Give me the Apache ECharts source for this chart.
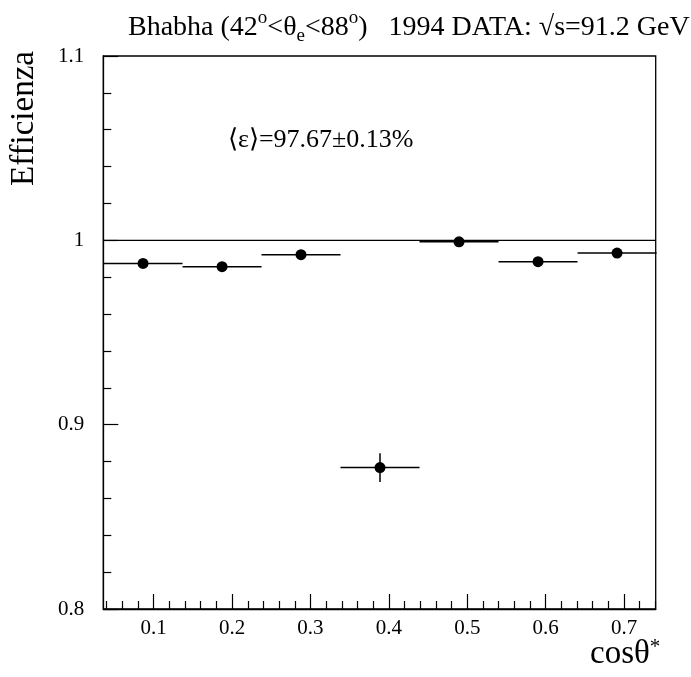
<!DOCTYPE html>
<html>
<head>
<meta charset="utf-8">
<script src="https://cdn.jsdelivr.net/npm/echarts@6/dist/echarts.min.js"></script>
<style>
  html, body { margin: 0; padding: 0; background: #fff; }
  #chart { width: 691px; height: 677px; }
</style>
</head>
<body>
<div id="chart"></div>
<script>
// Bin centres in cos(theta*) and their half widths
const binCenters = [0.0864, 0.1872, 0.2879, 0.3887, 0.4895, 0.5903, 0.6911];
const binHalfWidth = [0.0504, 0.0504, 0.0504, 0.0504, 0.0504, 0.0504, 0.0504];
// Measured efficiency per bin and its statistical error
const efficiency = [0.9875, 0.9857, 0.9922, 0.8767, 0.9992, 0.9884, 0.9931];
const effError = [0.0012, 0.0012, 0.0008, 0.0078, 0.0008, 0.0008, 0.0008];
// Axis tick values
const xMajorTicks = [0.1, 0.2, 0.3, 0.4, 0.5, 0.6, 0.7];
const xMinorTicks = [0.04, 0.06, 0.08, 0.12, 0.14, 0.16, 0.18, 0.22, 0.24, 0.26, 0.28,
  0.32, 0.34, 0.36, 0.38, 0.42, 0.44, 0.46, 0.48, 0.52, 0.54, 0.56, 0.58,
  0.62, 0.64, 0.66, 0.68, 0.72, 0.74];
const xRange = [0.0357, 0.7404];
const yRange = [0.8, 1.1];
const referenceLevel = 1.0;

const FONT = '"Liberation Serif", "Times New Roman", serif';

const points = binCenters.map((x, i) => [x, efficiency[i], binHalfWidth[i], effError[i]]);

const chart = echarts.init(document.getElementById('chart'), null, { renderer: 'canvas' });

chart.setOption({
  animation: false,
  backgroundColor: '#fff',
  grid: { left: 103.3, right: 35.3, top: 56, bottom: 68, show: true, borderColor: '#000', borderWidth: 1.3, backgroundColor: 'transparent' },
  xAxis: [{
    type: 'value', min: xRange[0], max: xRange[1],
    axisLine: { show: true, onZero: false, lineStyle: { color: '#000', width: 1.3 } },
    axisTick: { show: true, inside: true, length: 15, customValues: xMajorTicks, lineStyle: { color: '#000', width: 1.2 } },
    axisLabel: { show: true, customValues: xMajorTicks, color: '#000', fontFamily: FONT, fontSize: 21, margin: 9,
      formatter: v => v.toFixed(1) },
    splitLine: { show: false }
  }, {
    type: 'value', min: xRange[0], max: xRange[1], position: 'bottom',
    axisLine: { show: false, onZero: false },
    axisTick: { show: true, inside: true, length: 8, customValues: xMinorTicks, lineStyle: { color: '#000', width: 1.2 } },
    axisLabel: { show: false },
    splitLine: { show: false }
  }],
  yAxis: {
    type: 'value', min: yRange[0], max: yRange[1], interval: 0.1,
    axisLine: { show: true, onZero: false, lineStyle: { color: '#000', width: 1.3 } },
    axisTick: { show: true, inside: true, length: 15, lineStyle: { color: '#000', width: 1.2 } },
    minorTick: { show: true, splitNumber: 5, length: 8, lineStyle: { color: '#000', width: 1.2 } },
    axisLabel: { color: '#000', fontFamily: FONT, fontSize: 21, margin: 19,
      formatter: v => (Math.abs(v - 1) < 1e-9 ? '1' : (Math.round(v * 10) / 10).toString()) },
    splitLine: { show: false }
  },
  series: [{
    type: 'line',
    data: [[xRange[0], referenceLevel], [xRange[1], referenceLevel]],
    symbol: 'none',
    lineStyle: { color: '#000', width: 1.3 },
    silent: true,
    z: 1
  }, {
    type: 'custom',
    data: points,
    renderItem: (params, api) => {
      const x = api.value(0), y = api.value(1), hw = api.value(2), e = api.value(3);
      const l = api.coord([x - hw, y]);
      const r = api.coord([x + hw, y]);
      const t = api.coord([x, y + e]);
      const b = api.coord([x, y - e]);
      const style = { stroke: '#000', lineWidth: 1.5 };
      return {
        type: 'group',
        children: [
          { type: 'line', shape: { x1: l[0], y1: l[1], x2: r[0], y2: r[1] }, style },
          { type: 'line', shape: { x1: t[0], y1: t[1], x2: b[0], y2: b[1] }, style }
        ]
      };
    },
    z: 2
  }, {
    type: 'scatter',
    data: points.map(p => [p[0], p[1]]),
    symbol: 'circle',
    symbolSize: 11,
    itemStyle: { color: '#000', opacity: 1 },
    z: 3
  }],
  graphic: [{
    type: 'text', left: 128, top: 9,
    style: {
      text: 'Bhabha (42{sup|o}<θ{sub|e}<88{sup|o})   1994 DATA: √s=91.2 GeV',
      fontFamily: FONT, fontSize: 28, fill: '#000',
      rich: {
        sup: { fontFamily: FONT, fontSize: 19, verticalAlign: 'top', padding: [0, 0, 18, 0] },
        sub: { fontFamily: FONT, fontSize: 19, verticalAlign: 'bottom', padding: [16, 0, 0, 0] }
      }
    }
  }, {
    type: 'text', left: 228, top: 127,
    style: { text: '⟨ε⟩=97.67±0.13%', fontFamily: FONT, fontSize: 26, fill: '#000' }
  }, {
    type: 'text', x: 8, y: 186, rotation: Math.PI / 2,
    style: { text: 'Efficienza', fontFamily: FONT, fontSize: 33, fill: '#000', textAlign: 'left', textVerticalAlign: 'top' }
  }, {
    type: 'text', left: 590, top: 637,
    style: {
      text: 'cosθ{sup|*}',
      fontFamily: FONT, fontSize: 33, fill: '#000',
      rich: { sup: { fontFamily: FONT, fontSize: 21, verticalAlign: 'top', padding: [0, 0, 14, 0] } }
    }
  }]
});
</script>
</body>
</html>
